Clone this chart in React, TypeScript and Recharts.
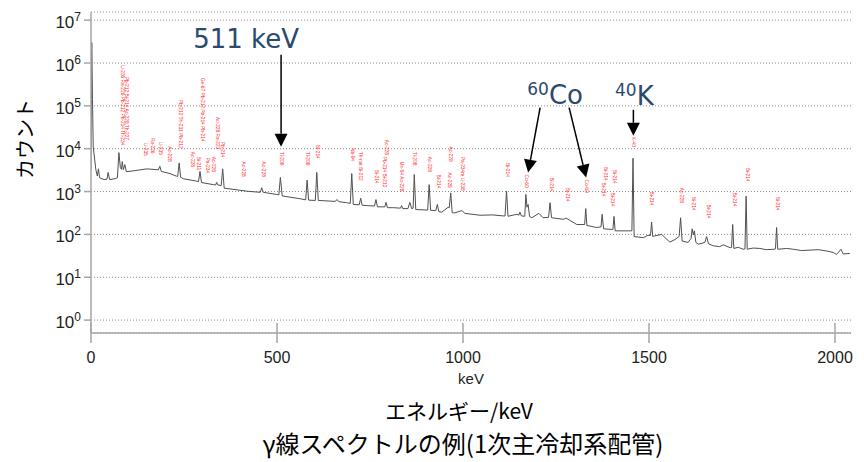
import React from "react";
import { ComposedChart, Line, Scatter, XAxis, YAxis, CartesianGrid } from "recharts";

// spectrum: energy in keV, counts per channel
const energy = [
  0, 2, 4, 6, 13, 17, 20, 23, 35, 43,
  46, 50, 65, 71, 75, 79, 82, 84, 87, 91,
  95, 118, 150, 177, 181, 185, 189, 212, 230, 233,
  237, 241, 248, 284, 289, 293, 297, 329, 335, 338,
  341, 350, 354, 358, 419, 455, 459, 463, 499, 505,
  509, 514, 562, 577, 581, 585, 603, 607, 611, 656,
  662, 666, 687, 697, 701, 705, 721, 725, 729, 741,
  762, 766, 770, 777, 790, 793, 797, 813, 832, 835,
  838, 852, 857, 862, 866, 869, 873, 905, 909, 913,
  927, 931, 935, 943, 960, 963, 967, 971, 978, 997,
  1005, 1046, 1080, 1108, 1113, 1117, 1121, 1145, 1150, 1153,
  1157, 1166, 1169, 1172, 1175, 1179, 1185, 1204, 1215, 1230,
  1234, 1238, 1270, 1277, 1306, 1327, 1330, 1333, 1359, 1371,
  1374, 1378, 1398, 1403, 1406, 1409, 1449, 1454, 1457, 1460,
  1485, 1497, 1504, 1507, 1510, 1534, 1556, 1570, 1581, 1585,
  1589, 1605, 1613, 1616, 1619, 1622, 1626, 1633, 1650, 1655,
  1660, 1673, 1690, 1700, 1718, 1722, 1725, 1728, 1740, 1753,
  1758, 1761, 1764, 1780, 1798, 1815, 1836, 1840, 1843, 1846,
  1870, 1888, 1910, 1933, 1955, 1978, 1995, 2004, 2010, 2016,
  2022, 2040,
];
const counts = [
  3200, 3000000, 140000, 11000, 3240, 2300, 3400, 2100, 1900, 1950,
  2800, 1900, 2000, 2100, 8100, 3600, 3300, 5000, 3250, 4250,
  2900, 3080, 3380, 3240, 3200, 3900, 2950, 2630, 2280, 2250,
  4650, 2150, 1990, 1750, 1700, 2950, 1620, 1450, 1420, 1640,
  1420, 1380, 3380, 1200, 1020, 960, 1230, 960, 855, 840,
  2140, 790, 680, 640, 1850, 630, 620, 2800, 620, 590,
  650, 580, 550, 530, 2630, 500, 490, 700, 480, 470,
  460, 650, 440, 440, 440, 560, 420, 420, 410, 470,
  400, 400, 560, 400, 410, 2500, 380, 370, 1450, 365,
  360, 500, 340, 330, 430, 420, 930, 320, 318, 360,
  310, 280, 285, 270, 270, 1020, 265, 295, 280, 330,
  270, 265, 855, 430, 500, 260, 245, 310, 245, 250,
  550, 245, 225, 240, 170, 170, 400, 162, 145, 150,
  295, 135, 131, 131, 263, 121, 121, 121, 6000, 89,
  84, 95, 95, 195, 90, 100, 66, 76, 90, 245,
  70, 65, 80, 135, 98, 121, 65, 59, 65, 89,
  60, 54, 52, 57, 49, 50, 170, 47, 50, 45,
  46, 780, 45, 48, 47, 44, 45, 46, 145, 45,
  47, 45, 42, 43, 44, 41, 38, 34, 39, 45,
  35, 36,
];

// red nuclide tags above the peaks (energy, count at the top of the tag, text)
const tagEnergy = [
  83, 94, 145, 164, 187, 210, 241, 271, 288, 298, 312, 328, 339, 354, 408, 462,
  511, 580, 608, 702, 725, 768, 788, 793, 835, 869, 909, 934, 965, 963, 999,
  1119, 1171, 1236, 1279, 1330, 1383, 1377, 1406, 1400, 1458, 1507, 1588, 1619, 1659, 1728, 1764, 1845,
];
const tagCounts = [
  890000, 480000, 13800, 18000, 14500, 11300, 138000, 8500, 6500, 450000, 6200, 6500, 55000, 14500, 5000, 5000,
  8500, 8500, 12300, 10400, 8500, 3240, 6500, 16200, 5000, 8500, 6500, 2500, 11300, 2770, 6500,
  4650, 2500, 2140, 1230, 1900, 3800, 1630, 3240, 950, 19000, 1000, 1230, 760, 500, 950, 3600, 760,
];
const tagText = [
  "U-235 Ra-226 Pb-212 Pb-214 Th-234", "Pb-212 Bi-214 Ac-228 Th-227", "U-235", "Ra-226", "U-235", "Ac-228",
  "Pb-212 Th-231 Pb-212", "Ac-228", "Bi-211", "Ge-67 Pb-212 Pb-214 Pb-214", "Pa-234", "Ac-228", "Ac-228 Ra-223",
  "Pb-214", "Ac-228", "Ac-228",
  "Tl-208", "Tl-208", "Bi-214", "Nb-94", "Th-nat Bi-212", "Bi-214", "Pb-214 Bi-212", "Ac-228", "Mn-54 Ac-228",
  "Tl-208", "Ac-228", "Bi-214", "Ac-228", "Ac-228", "Pa-234m U-238",
  "Bi-214", "Co-60", "Bi-214", "Bi-214", "Co-60", "Bi-214", "Bi-214", "Bi-214", "Bi-214", "K-40", "Bi-214",
  "Ac-228", "Bi-214", "Bi-214", "Bi-214", "Bi-214", "Bi-214",
];

// arrow tips of the annotations
const arrowEnergy = [511, 1175, 1331, 1458];
const arrowCounts = [11100, 2770, 2120, 20000];
const noteSup = ["", "60", "", "40"];
const noteMain = ["511 keV", "Co", "", "K"];

const xTicks = [0, 500, 1000, 1500, 2000];
const yTicks = [1, 10, 100, 1e3, 1e4, 1e5, 1e6, 1e7];

const spectrum = energy.map((e, i) => ({ e, c: counts[i] }));
const tags = tagEnergy.map((e, i) => ({ e, c: tagCounts[i], t: tagText[i] }));
const arrows = arrowEnergy.map((e, i) => ({ e, c: arrowCounts[i], k: i }));

// arrow start offsets (px) from the tip, and text offsets from the start
const arrowDx = [0, 12, -17, 0];
const arrowDy = [-92, -65, -70, -26];
const textDx = [-35, 15, 0, 1];
const textDy = [-7, -4, 0, -5];

const axisGray = "#a6a6a6";
const noteBlue = "#2b4a6c";

function PowTick(props: any) {
  const { x, y, payload } = props;
  const exp = Math.round(Math.log10(payload.value));
  return (
    <text x={x} y={y + 8} textAnchor="end" fontFamily="'Liberation Sans', Arial" fontSize={17} fill="#222">
      10
      <tspan fontSize={12} dy={-7}>
        {exp}
      </tspan>
    </text>
  );
}

function InTick(props: any) {
  const { x, y, payload } = props;
  return (
    <g>
      <line x1={x} x2={x} y1={y - 10} y2={y + 10} stroke={axisGray} strokeWidth={1.5} />
      <text x={x} y={y + 30} textAnchor="middle" fontFamily="'Liberation Sans', Arial" fontSize={16} fill="#222">
        {payload.value}
      </text>
    </g>
  );
}

function TagShape(props: any) {
  const { cx, cy, payload } = props;
  return (
    <text
      x={cx}
      y={cy}
      transform={`rotate(90 ${cx} ${cy})`}
      fontFamily="'Liberation Sans', Arial"
      fontSize={4.8}
      fill="#ff3030"
      dominantBaseline="middle"
    >
      {payload.t}
    </text>
  );
}

function ArrowShape(props: any) {
  const { cx, cy, payload } = props;
  const k = payload.k;
  const sx = cx + arrowDx[k];
  const sy = cy + arrowDy[k];
  const len = Math.hypot(cx - sx, cy - sy);
  const ux = (cx - sx) / len;
  const uy = (cy - sy) / len;
  const bx = cx - ux * 13;
  const by = cy - uy * 13;
  const nx = -uy * 6.5;
  const ny = ux * 6.5;
  return (
    <g>
      <line x1={sx} y1={sy} x2={bx} y2={by} stroke="#000" strokeWidth={1.5} />
      <polygon points={`${cx},${cy} ${bx + nx},${by + ny} ${bx - nx},${by - ny}`} fill="#000" />
      {(noteMain[k] || noteSup[k]) && (
        <text x={sx + textDx[k]} y={sy + textDy[k]} textAnchor="middle" fontFamily="'DejaVu Sans', Verdana" fill={noteBlue}>
          {noteSup[k] && (
            <tspan fontSize={17} dy={-9}>
              {noteSup[k]}
            </tspan>
          )}
          <tspan fontSize={26} dy={noteSup[k] ? 9 : 0}>
            {noteMain[k]}
          </tspan>
        </text>
      )}
    </g>
  );
}

export default function App() {
  return (
    <div style={{ position: "absolute", left: 0, top: 0, width: 864, height: 462, background: "#fff" }}>
      <ComposedChart width={864} height={390} margin={{ top: 12, right: 13, left: 0, bottom: 0 }}>
        <CartesianGrid vertical={false} stroke="#888" strokeDasharray="1 2" />
        <XAxis
          dataKey="e"
          type="number"
          domain={[0, 2043]}
          allowDataOverflow
          ticks={xTicks}
          height={57}
          tickSize={0}
          tickMargin={0}
          tickLine={false}
          tick={<InTick />}
          axisLine={{ stroke: axisGray, strokeWidth: 1.5 }}
          label={{ value: "keV", position: "insideBottom", offset: 6, fontSize: 15, fill: "#222", fontFamily: "'Liberation Sans', Arial" }}
        />
        <XAxis xAxisId="top" orientation="top" type="number" domain={[0, 2043]} height={0} tick={false} tickLine={false} axisLine={{ stroke: axisGray, strokeWidth: 1.5 }} />
        <YAxis
          type="number"
          scale="log"
          domain={[0.5, 1.55e7]}
          allowDataOverflow
          ticks={yTicks}
          width={91}
          tickSize={7}
          tickMargin={3}
          tick={<PowTick />}
          tickLine={{ stroke: axisGray, strokeWidth: 1.5 }}
          axisLine={{ stroke: axisGray, strokeWidth: 1.5 }}
        />
        <YAxis yAxisId="r" orientation="right" width={0} tick={false} tickLine={false} axisLine={{ stroke: axisGray, strokeWidth: 1.5 }} />
        <Scatter data={tags} dataKey="c" shape={<TagShape />} isAnimationActive={false} />
        <Line data={spectrum} dataKey="c" type="linear" stroke="#505050" strokeWidth={1} dot={false} isAnimationActive={false} />
        <Scatter data={arrows} dataKey="c" shape={<ArrowShape />} isAnimationActive={false} />
      </ComposedChart>
      <div
        style={{
          position: "absolute",
          left: -25,
          top: 127,
          width: 100,
          height: 24,
          lineHeight: "24px",
          textAlign: "center",
          transform: "rotate(-90deg)",
          fontFamily: "'Noto Sans CJK JP', sans-serif",
          fontSize: 20,
          color: "#000",
        }}
      >
        カウント
      </div>
      <div
        style={{
          position: "absolute",
          left: 259,
          top: 397,
          width: 400,
          lineHeight: "26px",
          textAlign: "center",
          fontFamily: "'Noto Sans CJK JP', sans-serif",
          fontSize: 21,
          color: "#000",
        }}
      >
        エネルギー/keV
      </div>
      <div
        style={{
          position: "absolute",
          left: 163,
          top: 428,
          width: 600,
          lineHeight: "30px",
          textAlign: "center",
          fontFamily: "'Noto Sans CJK JP', sans-serif",
          fontSize: 24,
          color: "#000",
        }}
      >
        γ線スペクトルの例(1次主冷却系配管)
      </div>
    </div>
  );
}
